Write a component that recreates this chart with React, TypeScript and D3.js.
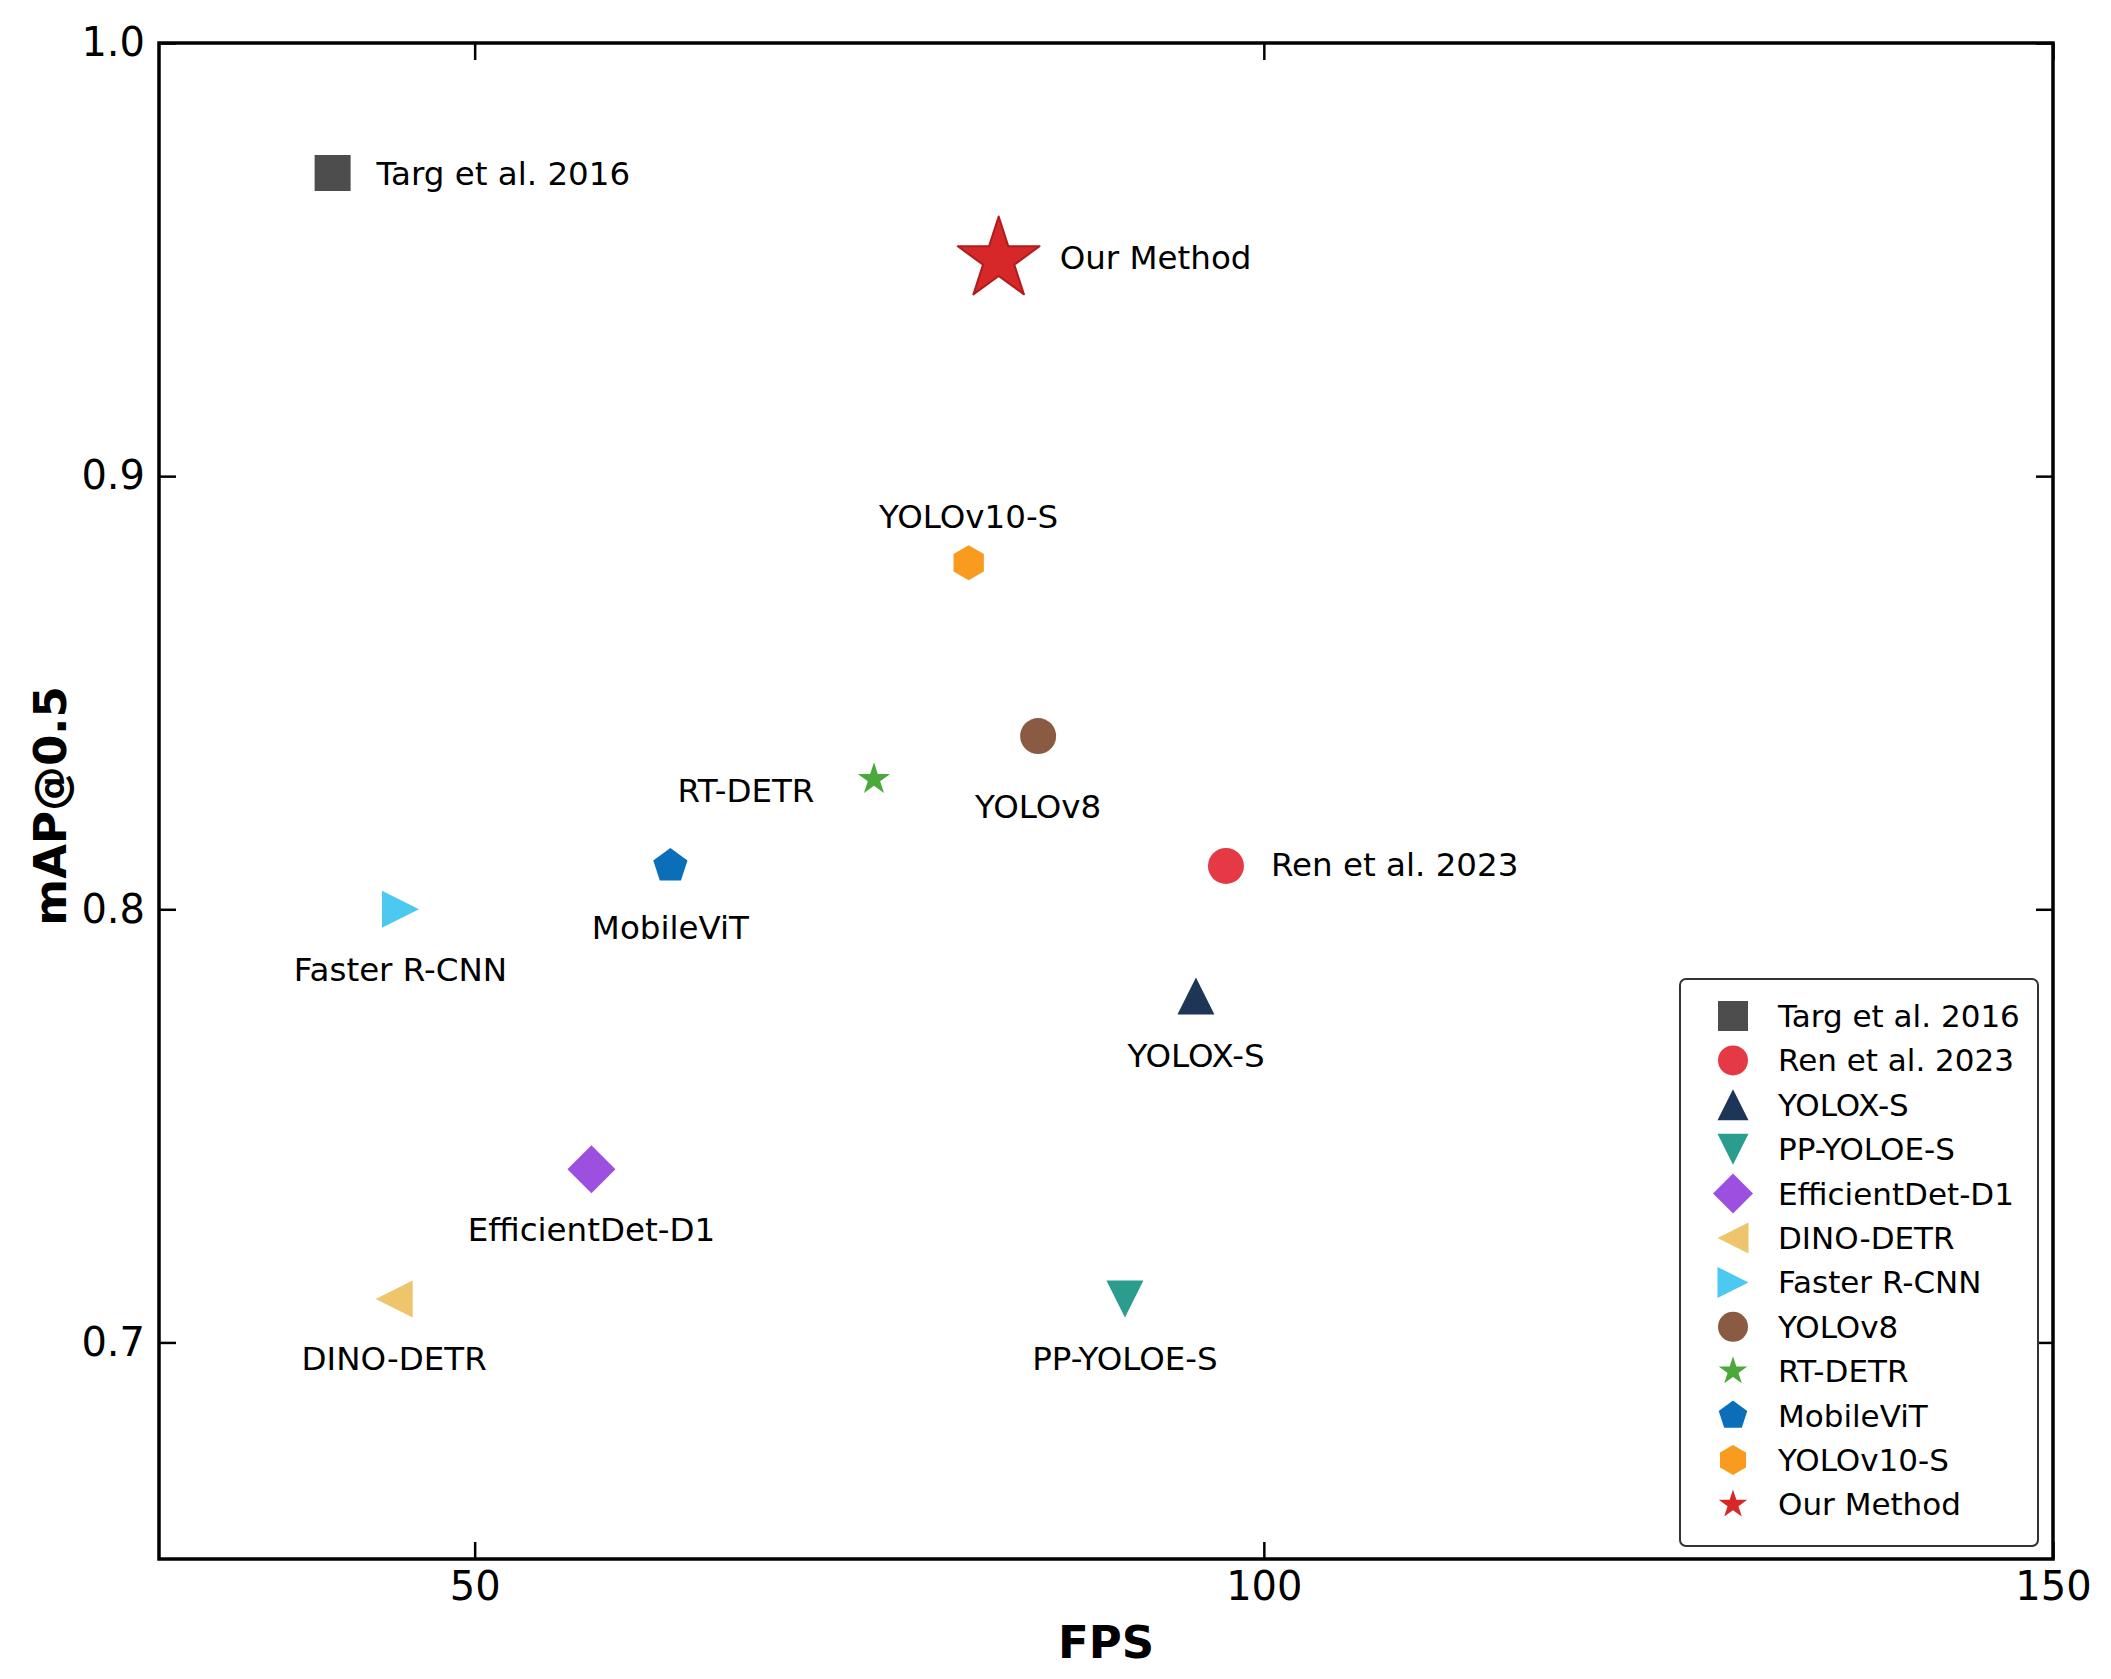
import React, { useEffect, useRef } from "react";
import * as d3 from "d3";

// ---------------- data ----------------
const methods = [
  "Targ et al. 2016",
  "Ren et al. 2023",
  "YOLOX-S",
  "PP-YOLOE-S",
  "EfficientDet-D1",
  "DINO-DETR",
  "Faster R-CNN",
  "YOLOv8",
  "RT-DETR",
  "MobileViT",
  "YOLOv10-S",
  "Our Method",
];
const fpsValues = [41.0, 97.6, 95.7, 91.2, 57.4, 44.9, 45.3, 85.7, 75.3, 62.4, 81.3, 83.2];
const mapValues = [0.97, 0.81, 0.78, 0.71, 0.74, 0.71, 0.8, 0.84, 0.83, 0.81, 0.88, 0.95];

const xTicks = [50, 100, 150];
const yTicks = [0.7, 0.8, 0.9, 1.0];
const xLabel = "FPS";
const yLabel = "mAP@0.5";

// ---------------- styles ----------------
const markerShapes = [
  "square",
  "circle",
  "triangleUp",
  "triangleDown",
  "diamond",
  "triangleLeft",
  "triangleRight",
  "circle",
  "star",
  "pentagon",
  "hexagon",
  "star",
];
const markerColors = [
  "#4d4d4d",
  "#e63946",
  "#1d3557",
  "#2a9d8f",
  "#9d4fe0",
  "#eec46c",
  "#4cc9f0",
  "#8b5a42",
  "#4ba83a",
  "#0a6fb8",
  "#f89b1f",
  "#d62828",
];
const markerRadius = [18, 18, 18.5, 18.5, 24, 18.5, 18.5, 18, 17, 18, 17.5, 43];
const legendRadius = [15, 15, 15.5, 15.5, 20, 15.5, 15.5, 15, 15, 15, 15, 15];
const labelAnchor = ["start", "start", "middle", "middle", "middle", "middle", "middle", "middle", "middle", "middle", "middle", "start"];
const labelDx = [44, 45, 0, 0, 0, 0, 0, 0, -128, 0, 0, 61];
const labelDy = [12, 10, 71, 71, 72, 71, 72, 82, 23, 73, -35, 9];

const W = 2111;
const H = 1679;
const P = { left: 159, right: 2053, top: 43, bottom: 1559 };
const FONT = "'DejaVu Sans', 'Liberation Sans', sans-serif";

function polygon(n: number, r: number, start = -Math.PI / 2) {
  const pts: [number, number][] = [];
  for (let i = 0; i < n; i++) {
    const a = start + (i * 2 * Math.PI) / n;
    pts.push([r * Math.cos(a), r * Math.sin(a)]);
  }
  return "M" + pts.map((p) => p.join(",")).join("L") + "Z";
}

function starPath(r: number) {
  const pts: [number, number][] = [];
  const inner = r * 0.381966;
  for (let i = 0; i < 10; i++) {
    const a = -Math.PI / 2 + (i * Math.PI) / 5;
    const rr = i % 2 === 0 ? r : inner;
    pts.push([rr * Math.cos(a), rr * Math.sin(a)]);
  }
  return "M" + pts.map((p) => p.join(",")).join("L") + "Z";
}

function markerPath(shape: string, r: number) {
  switch (shape) {
    case "square":
      return `M${-r},${-r}H${r}V${r}H${-r}Z`;
    case "circle":
      return `M${r},0A${r},${r} 0 1,1 ${-r},0A${r},${r} 0 1,1 ${r},0Z`;
    case "triangleUp":
      return `M0,${-r}L${r},${r}L${-r},${r}Z`;
    case "triangleDown":
      return `M0,${r}L${r},${-r}L${-r},${-r}Z`;
    case "triangleLeft":
      return `M${-r},0L${r},${-r}L${r},${r}Z`;
    case "triangleRight":
      return `M${r},0L${-r},${-r}L${-r},${r}Z`;
    case "diamond":
      return `M0,${-r}L${r},0L0,${r}L${-r},0Z`;
    case "pentagon":
      return polygon(5, r);
    case "hexagon":
      return polygon(6, r);
    case "star":
      return starPath(r);
    default:
      return "";
  }
}

export default function App() {
  const axRef = useRef<SVGGElement>(null);

  const x = d3.scaleLinear().domain([30, 150]).range([P.left, P.right]);
  const y = d3.scaleLinear().domain([0.65, 1.0]).range([P.bottom, P.top]);

  useEffect(() => {
    if (!axRef.current) return;
    const g = d3.select(axRef.current);
    g.selectAll("*").remove();
    const tick = 17;

    const bottom = g
      .append("g")
      .attr("transform", `translate(0,${P.bottom})`)
      .call(
        d3
          .axisBottom(x)
          .tickValues(xTicks)
          .tickSizeInner(-tick)
          .tickSizeOuter(0)
          .tickPadding(13)
          .tickFormat(d3.format("d") as any)
      );
    const left = g
      .append("g")
      .attr("transform", `translate(${P.left},0)`)
      .call(
        d3
          .axisLeft(y)
          .tickValues(yTicks)
          .tickSizeInner(-tick)
          .tickSizeOuter(0)
          .tickPadding(14)
          .tickFormat(d3.format(".1f") as any)
      );
    const top = g
      .append("g")
      .attr("transform", `translate(0,${P.top})`)
      .call(d3.axisTop(x).tickValues(xTicks).tickSizeInner(-tick).tickSizeOuter(0).tickFormat(() => ""));
    const right = g
      .append("g")
      .attr("transform", `translate(${P.right},0)`)
      .call(d3.axisRight(y).tickValues(yTicks).tickSizeInner(-tick).tickSizeOuter(0).tickFormat(() => ""));

    [bottom, left, top, right].forEach((a) => {
      a.select(".domain").remove();
      a.selectAll(".tick line").attr("stroke", "#000").attr("stroke-width", 2.5);
      a.selectAll(".tick text")
        .attr("fill", "#000")
        .style("font-family", FONT)
        .style("font-size", "40px");
    });
  }, []);

  const order = methods.map((_, i) => i);

  return (
    <svg
      width={W}
      height={H}
      viewBox={`0 0 ${W} ${H}`}
      style={{ position: "absolute", left: 0, top: 0, background: "#fff" }}
    >
      <rect x={0} y={0} width={W} height={H} fill="#fff" />
      <g ref={axRef} />
      <rect
        x={P.left}
        y={P.top}
        width={P.right - P.left}
        height={P.bottom - P.top}
        fill="none"
        stroke="#000"
        strokeWidth={3.5}
      />

      {/* markers */}
      {order.map((i) => (
        <path
          key={"m" + i}
          d={markerPath(markerShapes[i], markerRadius[i])}
          transform={`translate(${x(fpsValues[i])},${y(mapValues[i])})`}
          fill={markerColors[i]}
          stroke={i === methods.length - 1 ? "#b01c1c" : "none"}
          strokeWidth={i === methods.length - 1 ? 2 : 0}
          strokeLinejoin="round"
        />
      ))}

      {/* point labels */}
      {order.map((i) => (
        <text
          key={"t" + i}
          x={x(fpsValues[i]) + labelDx[i]}
          y={y(mapValues[i]) + labelDy[i]}
          textAnchor={labelAnchor[i] as any}
          fontFamily={FONT}
          fontSize={32.5}
          fill="#000"
        >
          {methods[i]}
        </text>
      ))}

      {/* axis labels */}
      <text
        x={(P.left + P.right) / 2}
        y={1658}
        textAnchor="middle"
        fontFamily={FONT}
        fontWeight="bold"
        fontSize={45}
        fill="#000"
      >
        {xLabel}
      </text>
      <text
        transform={`translate(66,${(P.top + P.bottom) / 2 + 5}) rotate(-90)`}
        textAnchor="middle"
        fontFamily={FONT}
        fontWeight="bold"
        fontSize={45}
        fill="#000"
      >
        {yLabel}
      </text>

      {/* legend */}
      <g>
        <rect x={1680} y={979} width={358} height={567} rx={6} fill="#fff" stroke="#333" strokeWidth={2} />
        {order.map((i) => {
          const base = 1027 + i * 44.4;
          return (
            <g key={"l" + i}>
              <path
                d={markerPath(markerShapes[i], legendRadius[i])}
                transform={`translate(1733,${base - 11})`}
                fill={markerColors[i]}
              />
              <text x={1778} y={base} fontFamily={FONT} fontSize={31} fill="#000">
                {methods[i]}
              </text>
            </g>
          );
        })}
      </g>
    </svg>
  );
}
